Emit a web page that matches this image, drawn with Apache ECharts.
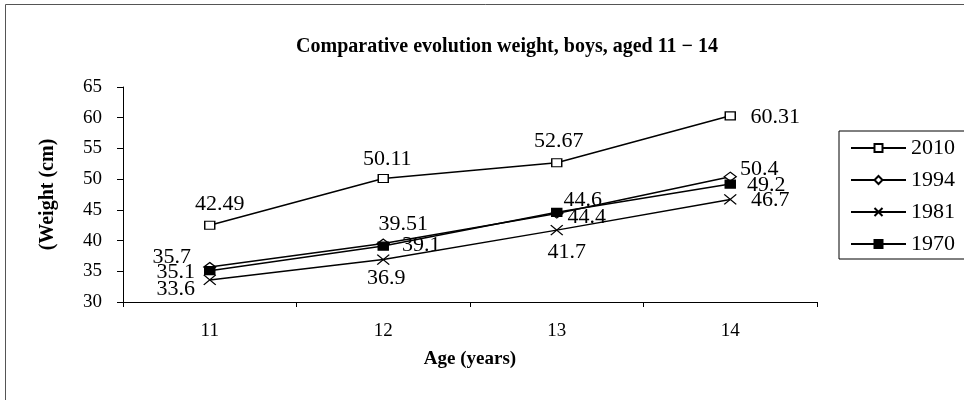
<!DOCTYPE html>
<html>
<head>
<meta charset="utf-8">
<script src="https://cdn.jsdelivr.net/npm/echarts@6/dist/echarts.min.js"></script>
<style>html,body{margin:0;padding:0;background:#fff}#c{width:964px;height:400px}</style>
</head>
<body>
<div id="c"></div>
<script>
const categories = ['11', '12', '13', '14'];
const seriesNames = ['2010', '1994', '1981', '1970'];
const v2010 = [42.49, 50.11, 52.67, 60.31];
const v1994 = [35.7, 39.51, 44.4, 50.4];
const v1981 = [33.6, 36.9, 41.7, 46.7];
const v1970 = [35.1, 39.1, 44.6, 49.2];
const yTicks = [30, 35, 40, 45, 50, 55, 60, 65];

// label offsets from the marker centre, in px (style only)
const labelOffsets = {
  '2010': [[10, -21], [4, -19], [2, -22], [45, 1]],
  '1994': [[-38, -10], [20, -19], [30, 4], [29, -7]],
  '1981': [[-34, 9], [3, 19], [10, 22], [40, 1]],
  '1970': [[-34, 2], [38, -1], [26, -12], [36, 1]]
};

const FONT = 'Liberation Serif';
const symbols = {
  '2010': {symbol: 'rect', size: [10, 8], fill: '#fff'},
  '1994': {symbol: 'diamond', size: [12, 9], fill: '#fff'},
  '1981': {symbol: 'path://M0,0L10,10M10,0L0,10', size: [12, 10], fill: 'none'},
  '1970': {symbol: 'rect', size: [10, 8], fill: '#000'}
};
const values = {'2010': v2010, '1994': v1994, '1981': v1981, '1970': v1970};

const series = seriesNames.map(name => ({
  name,
  type: 'line',
  symbol: symbols[name].symbol,
  symbolSize: symbols[name].size,
  showAllSymbol: true,
  lineStyle: {color: '#000', width: 1.5},
  itemStyle: {color: symbols[name].fill, borderColor: '#000', borderWidth: 1.3},
  emphasis: {disabled: true},
  z: 3,
  data: values[name].map((v, i) => ({
    value: v,
    label: {
      show: true,
      position: 'inside',
      offset: labelOffsets[name][i],
      align: 'center',
      verticalAlign: 'middle',
      color: '#000',
      fontFamily: FONT,
      fontSize: 22,
      formatter: String(v)
    }
  }))
}));

const chart = echarts.init(document.getElementById('c'), null, {renderer: 'canvas'});
chart.setOption({
  animation: false,
  backgroundColor: '#fff',
  title: {
    text: 'Comparative evolution weight, boys, aged 11 \u2212 14',
    left: 502,
    textAlign: 'center',
    top: 32,
    textStyle: {fontFamily: FONT, fontWeight: 'bold', fontSize: 20, color: '#000'}
  },
  graphic: [{
    type: 'rect',
    shape: {x: 5.5, y: 4.5, width: 1000, height: 500},
    style: {fill: 'none', stroke: '#555', lineWidth: 1},
    silent: true,
    z: -1
  }],
  legend: {
    orient: 'vertical',
    left: 839,
    top: 131,
    width: 200,
    padding: [6, 60, 4, 11],
    itemGap: 10,
    itemWidth: 55,
    itemHeight: 10,
    borderColor: '#000',
    borderWidth: 1,
    textStyle: {fontFamily: FONT, fontSize: 22, color: '#000'},
    data: seriesNames
  },
  grid: {left: 123, right: 147, top: 87, bottom: 98},
  xAxis: {
    type: 'category',
    data: categories,
    boundaryGap: true,
    name: 'Age (years)',
    nameLocation: 'middle',
    nameGap: 48,
    nameTextStyle: {fontFamily: FONT, fontWeight: 'bold', fontSize: 19, color: '#000'},
    axisLine: {lineStyle: {color: '#000', width: 1}},
    axisTick: {show: true, length: 5, lineStyle: {color: '#000'}},
    axisLabel: {fontFamily: FONT, fontSize: 19, color: '#000', margin: 20}
  },
  yAxis: {
    type: 'value',
    min: yTicks[0],
    max: yTicks[yTicks.length - 1],
    interval: 5,
    name: '(Weight (cm)',
    nameLocation: 'middle',
    nameGap: 65,
    nameRotate: 90,
    nameTextStyle: {fontFamily: FONT, fontWeight: 'bold', fontSize: 20, color: '#000'},
    splitLine: {show: false},
    axisLine: {show: true, lineStyle: {color: '#000', width: 1}},
    axisTick: {show: true, length: 6, lineStyle: {color: '#000'}},
    axisLabel: {fontFamily: FONT, fontSize: 19, color: '#000', margin: 21}
  },
  series
});
</script>
</body>
</html>
